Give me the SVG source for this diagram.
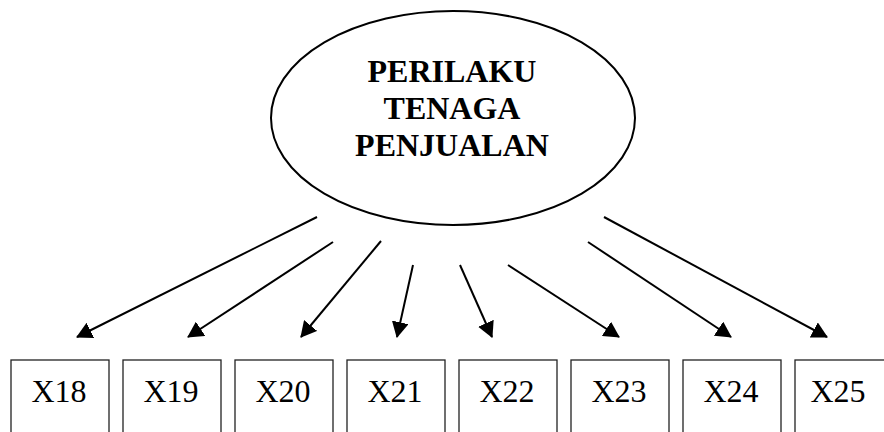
<svg xmlns="http://www.w3.org/2000/svg" width="884" height="432" viewBox="0 0 884 432">
  <defs>
    <style>
      .latent { fill: #fff; stroke: #000; stroke-width: 2; }
      .item { fill: #fff; stroke: #222; stroke-width: 1.3; }
      .title { font-family: "Liberation Serif", "Times New Roman", serif; font-size: 32px; font-weight: bold; text-anchor: middle; fill: #000; }
      .label { font-family: "Liberation Serif", "Times New Roman", serif; font-size: 32px; text-anchor: middle; fill: #000; }
      .arrow { stroke: #000; stroke-width: 2; fill: none; marker-end: url(#head); }
    </style>
    <marker id="head" viewBox="0 0 16 17" refX="15" refY="8.5" markerWidth="16" markerHeight="17" markerUnits="userSpaceOnUse" orient="auto">
      <path d="M0,0 L16,8.5 L0,17 Z" fill="#000"/>
    </marker>
  </defs>
  <rect width="884" height="432" fill="#fff"/>

  <!-- latent construct -->
  <g id="perilaku">
    <ellipse class="latent" cx="453" cy="118" rx="182" ry="107"/>
    <text class="title" x="452" y="82">PERILAKU</text>
    <text class="title" x="452" y="119">TENAGA</text>
    <text class="title" x="452" y="156">PENJUALAN</text>
  </g>

  <!-- indicator links -->
  <g id="connectors">
    <line class="arrow" x1="317" y1="217" x2="77" y2="337"/>
    <line class="arrow" x1="333" y1="242" x2="188" y2="337"/>
    <line class="arrow" x1="381" y1="241" x2="301" y2="337"/>
    <line class="arrow" x1="413" y1="265" x2="397" y2="337"/>
    <line class="arrow" x1="460" y1="265" x2="492" y2="337"/>
    <line class="arrow" x1="508" y1="265" x2="619" y2="337"/>
    <line class="arrow" x1="588" y1="242" x2="731" y2="337"/>
    <line class="arrow" x1="604" y1="217" x2="827" y2="337"/>
  </g>

  <!-- indicators -->
  <g id="x18"><rect class="item" x="11" y="360" width="98" height="80"/><text class="label" x="59" y="402">X18</text></g>
  <g id="x19"><rect class="item" x="123" y="360" width="98" height="80"/><text class="label" x="171" y="402">X19</text></g>
  <g id="x20"><rect class="item" x="235" y="360" width="98" height="80"/><text class="label" x="283" y="402">X20</text></g>
  <g id="x21"><rect class="item" x="347" y="360" width="98" height="80"/><text class="label" x="395" y="402">X21</text></g>
  <g id="x22"><rect class="item" x="459" y="360" width="98" height="80"/><text class="label" x="507" y="402">X22</text></g>
  <g id="x23"><rect class="item" x="571" y="360" width="98" height="80"/><text class="label" x="619" y="402">X23</text></g>
  <g id="x24"><rect class="item" x="683" y="360" width="98" height="80"/><text class="label" x="731" y="402">X24</text></g>
  <g id="x25"><rect class="item" x="795" y="360" width="98" height="80"/><text class="label" x="838" y="402">X25</text></g>
</svg>
